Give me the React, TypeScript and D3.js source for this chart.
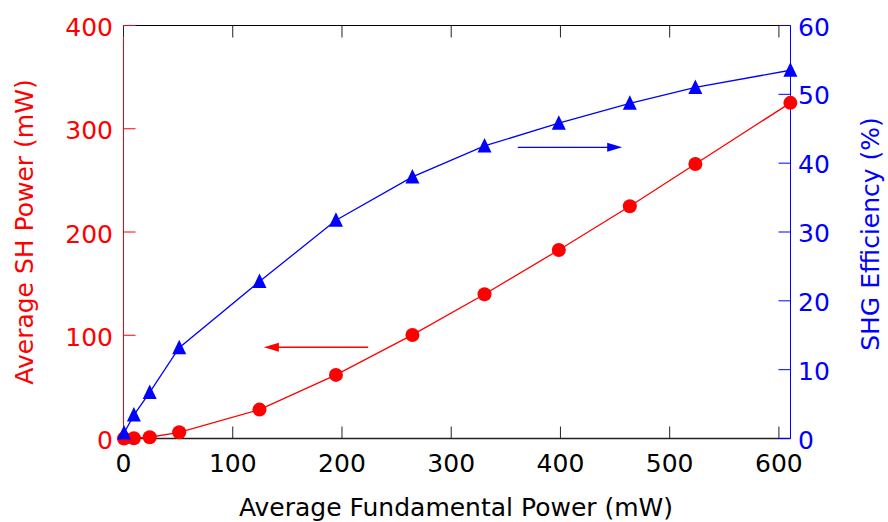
import React from "react";
import * as d3 from "d3";

// Data
const fundamental = [0.5, 9.5, 24, 51, 124.5, 194.5, 264.5, 330.5, 398.5, 463.5, 523.5, 610.5];
const shPower = [0, 0.3, 1.2, 6, 28, 61.6, 100.3, 139.7, 182.6, 224.9, 265.8, 325.1];
const shgEff = [0.8, 3.4, 6.7, 13.2, 22.8, 31.7, 38.0, 42.5, 45.8, 48.7, 51.0, 53.5];

const xTicks = [0, 100, 200, 300, 400, 500, 600];
const yLeftTicks = [0, 100, 200, 300, 400];
const yRightTicks = [0, 10, 20, 30, 40, 50, 60];

// Annotation arrows (data coords)
const redArrow = { from: 224, to: 128.5, y: 88.4 };
const blueArrow = { from: 361, to: 456.5, y: 42.3 };

const W = 888;
const H = 522;
const FONT = "'DejaVu Sans', Verdana, sans-serif";
const RED = "#ff0000";
const BLUE = "#0000ff";

export default function App() {
  const x = d3.scaleLinear().domain([0, 610.6]).range([123.5, 790.5]);
  const yL = d3.scaleLinear().domain([0, 400]).range([438.5, 25.5]);
  const yR = d3.scaleLinear().domain([0, 60]).range([438.5, 25.5]);

  const redLine = d3
    .line<number>()
    .x((_, i) => x(fundamental[i]))
    .y((d) => yL(d))(shPower) as string;
  const blueLine = d3
    .line<number>()
    .x((_, i) => x(fundamental[i]))
    .y((d) => yR(d))(shgEff) as string;

  const tri = "M0,-8 L7,6.5 L-7,6.5 Z";

  const x0 = x.range()[0];
  const x1 = x.range()[1];
  const yb = yL.range()[0];
  const yt = yL.range()[1];
  const TL = 12;

  const arrowHead = (tipX: number, y: number, dir: number, color: string) => {
    const len = 15;
    const hw = 4.5;
    return (
      <path
        d={`M${tipX},${y} L${tipX - dir * len},${y - hw} L${tipX - dir * len},${y + hw} Z`}
        fill={color}
      />
    );
  };

  const ra = { x1: x(redArrow.from), x2: x(redArrow.to), y: yL(redArrow.y) };
  const ba = { x1: x(blueArrow.from), x2: x(blueArrow.to), y: yR(blueArrow.y) };

  return (
    <svg width={W} height={H} style={{ position: "absolute", left: 0, top: 0 }} fontFamily={FONT}>
      <rect width={W} height={H} fill="#fff" />
      {/* frame: top & bottom black */}
      <line x1={x0} x2={x1} y1={yt} y2={yt} stroke="#000" strokeWidth={1} />
      <line x1={x0} x2={x1} y1={yb} y2={yb} stroke="#222" strokeWidth={1.3} />
      {xTicks.map((t) => (
        <g key={"xt" + t}>
          <line x1={x(t)} x2={x(t)} y1={yb} y2={yb - TL} stroke="#222" strokeWidth={1} />
          <line x1={x(t)} x2={x(t)} y1={yt} y2={yt + TL} stroke="#222" strokeWidth={1} />
          <text x={x(t)} y={472} textAnchor="middle" fontSize={25} fill="#000">
            {t}
          </text>
        </g>
      ))}
      {/* left axis red */}
      <line x1={x0} x2={x0} y1={yt + TL} y2={yb} stroke={RED} strokeWidth={1} />
      {yLeftTicks.map((t) => (
        <g key={"yl" + t}>
          <line x1={x0} x2={x0 + TL} y1={yL(t)} y2={yL(t)} stroke={RED} strokeWidth={1} />
          <text x={113} y={yL(t) + 10.5} textAnchor="end" fontSize={25} fill={RED}>
            {t}
          </text>
        </g>
      ))}
      {/* right axis blue */}
      <line x1={x1} x2={x1} y1={yt} y2={yb} stroke={BLUE} strokeWidth={1} />
      {yRightTicks.map((t) => (
        <g key={"yr" + t}>
          <line x1={x1} x2={x1 - TL} y1={yR(t)} y2={yR(t)} stroke={BLUE} strokeWidth={1} />
          <text x={798} y={yR(t) + 10} textAnchor="start" fontSize={25} fill={BLUE}>
            {t}
          </text>
        </g>
      ))}

      {/* red series */}
      <path d={redLine} fill="none" stroke={RED} strokeWidth={1.3} />
      {shPower.map((v, i) => (
        <circle key={"c" + i} cx={x(fundamental[i])} cy={yL(v)} r={7} fill={RED} />
      ))}
      {/* blue series */}
      <path d={blueLine} fill="none" stroke={BLUE} strokeWidth={1.3} />
      {shgEff.map((v, i) => (
        <path
          key={"t" + i}
          d={tri}
          transform={`translate(${x(fundamental[i])},${yR(v)})`}
          fill={BLUE}
        />
      ))}

      {/* arrows */}
      <line x1={ra.x1} x2={ra.x2 + 10} y1={ra.y} y2={ra.y} stroke={RED} strokeWidth={1.3} />
      {arrowHead(ra.x2, ra.y, -1, RED)}
      <line x1={ba.x1} x2={ba.x2 - 10} y1={ba.y} y2={ba.y} stroke={BLUE} strokeWidth={1.3} />
      {arrowHead(ba.x2, ba.y, 1, BLUE)}

      {/* titles */}
      <text x={456} y={516} textAnchor="middle" fontSize={25} fill="#000">
        Average Fundamental Power (mW)
      </text>
      <text
        transform={`translate(33,232) rotate(-90)`}
        textAnchor="middle"
        fontSize={25}
        fill={RED}
      >
        Average SH Power (mW)
      </text>
      <text
        transform={`translate(879,234) rotate(-90)`}
        textAnchor="middle"
        fontSize={25}
        fill={BLUE}
      >
        SHG Efficiency (%)
      </text>
    </svg>
  );
}
